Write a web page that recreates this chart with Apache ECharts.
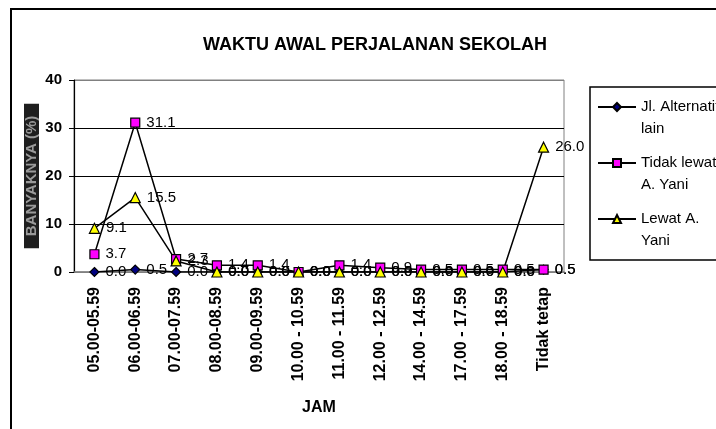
<!DOCTYPE html>
<html>
<head>
<meta charset="utf-8">
<script src="https://cdn.jsdelivr.net/npm/echarts@6/dist/echarts.min.js"></script>
<style>
html,body{margin:0;padding:0;background:#fff;}
#chart{width:716px;height:429px;}
</style>
</head>
<body>
<div id="chart"></div>
<script>
// kategori jam
var jam = ['05.00-05.59', '06.00-06.59', '07.00-07.59', '08.00-08.59', '09.00-09.59',
  '10.00 - 10.59', '11.00 - 11.59', '12.00 - 12.59', '14.00 - 14.59', '17.00 - 17.59',
  '18.00 - 18.59', 'Tidak tetap'];
// nilai tiap seri (%)
var jlAlternatif = [0.0, 0.5, 0.0, 0.0, 0.0, 0.0, 0.0, 0.0, 0.0, 0.0, 0.0, 0.5];
var tidakLewat = [3.7, 31.1, 2.7, 1.4, 1.4, 0.0, 1.4, 0.9, 0.5, 0.5, 0.5, 0.5];
var lewatYani = [9.1, 15.5, 2.3, 0.0, 0.0, 0.0, 0.0, 0.0, 0.0, 0.0, 0.0, 26.0];
var namaSeri = ['Jl. Alternatif lain', 'Tidak lewat A. Yani', 'Lewat A. Yani'];
var namaLegend = {
  'Jl. Alternatif lain': '\nJl. Alternatif\nlain',
  'Tidak lewat A. Yani': '\nTidak lewat\nA. Yani',
  'Lewat A. Yani': '\nLewat A.\nYani'
};

var font = 'Liberation Sans, Arial, sans-serif';
var chart = echarts.init(document.getElementById('chart'));

function seri(nama, data, symbol, size, warna) {
  return {
    name: nama,
    type: 'line',
    data: data,
    symbol: symbol,
    symbolSize: size,
    showAllSymbol: true,
    lineStyle: {color: '#000', width: 1.5},
    itemStyle: {color: warna, borderColor: '#000', borderWidth: 1.2},
    label: {
      show: true, position: 'right', distance: 6,
      formatter: function (p) { return p.value.toFixed(1); },
      fontFamily: font, fontSize: 15, color: '#000'
    },
    emphasis: {disabled: true},
    animation: false
  };
}

var option = {
  animation: false,
  title: {
    text: 'WAKTU AWAL PERJALANAN SEKOLAH',
    left: 370, top: 31, textAlign: 'center',
    textStyle: {fontFamily: font, fontSize: 18, fontWeight: 'bold', color: '#000'}
  },
  legend: {
    orient: 'vertical',
    left: 597, top: 74,
    padding: 0,
    itemGap: -10,
    itemWidth: 38, itemHeight: 10,
    data: namaSeri,
    formatter: function (n) { return namaLegend[n]; },
    textStyle: {fontFamily: font, fontSize: 15, lineHeight: 22, color: '#000'},
    selectedMode: false
  },
  grid: {
    left: 74, top: 80, width: 490, height: 192,
    show: true, borderColor: '#808080', borderWidth: 1, backgroundColor: 'transparent'
  },
  xAxis: {
    type: 'category',
    data: jam,
    boundaryGap: true,
    name: 'JAM',
    nameLocation: 'middle',
    nameGap: 128,
    nameTextStyle: {fontFamily: font, fontSize: 16, fontWeight: 'bold', color: '#000'},
    axisLine: {lineStyle: {color: '#808080', width: 1.5}},
    axisTick: {show: false},
    axisLabel: {
      rotate: 90, interval: 0, margin: 15,
      fontFamily: font, fontSize: 16, fontWeight: 'bold', color: '#000'
    }
  },
  yAxis: {
    type: 'value',
    min: 0, max: 40, interval: 10,
    name: 'BANYAKNYA (%)',
    nameLocation: 'middle',
    nameRotate: 90,
    nameGap: 35,
    nameMoveOverlap: false,
    nameTextStyle: {
      fontFamily: font, fontSize: 15, fontWeight: 'bold', color: '#9a9a9a',
      backgroundColor: '#1e1e1e', padding: [0, 12]
    },
    axisLine: {show: true, lineStyle: {color: '#000', width: 1.2}},
    axisTick: {show: true, inside: false, length: 5, lineStyle: {color: '#000'}},
    axisLabel: {margin: 12, fontFamily: font, fontSize: 15, fontWeight: 'bold', color: '#000'},
    splitLine: {lineStyle: {color: ['#808080', '#000', '#000', '#000', '#808080'], width: 1.2}}
  },
  graphic: [
    {type: 'rect', shape: {x: 11, y: 9, width: 800, height: 600},
      style: {fill: 'none', stroke: '#000', lineWidth: 2}, silent: true},
    {type: 'rect', shape: {x: 590, y: 87, width: 200, height: 173},
      style: {fill: 'none', stroke: '#000', lineWidth: 1.5}, silent: true}
  ],
  series: [
    seri(namaSeri[0], jlAlternatif, 'diamond', 9, '#000080'),
    seri(namaSeri[1], tidakLewat, 'rect', 9, '#ff00ff'),
    seri(namaSeri[2], lewatYani, 'triangle', 10, '#ffff00')
  ]
};
chart.setOption(option);
</script>
</body>
</html>
